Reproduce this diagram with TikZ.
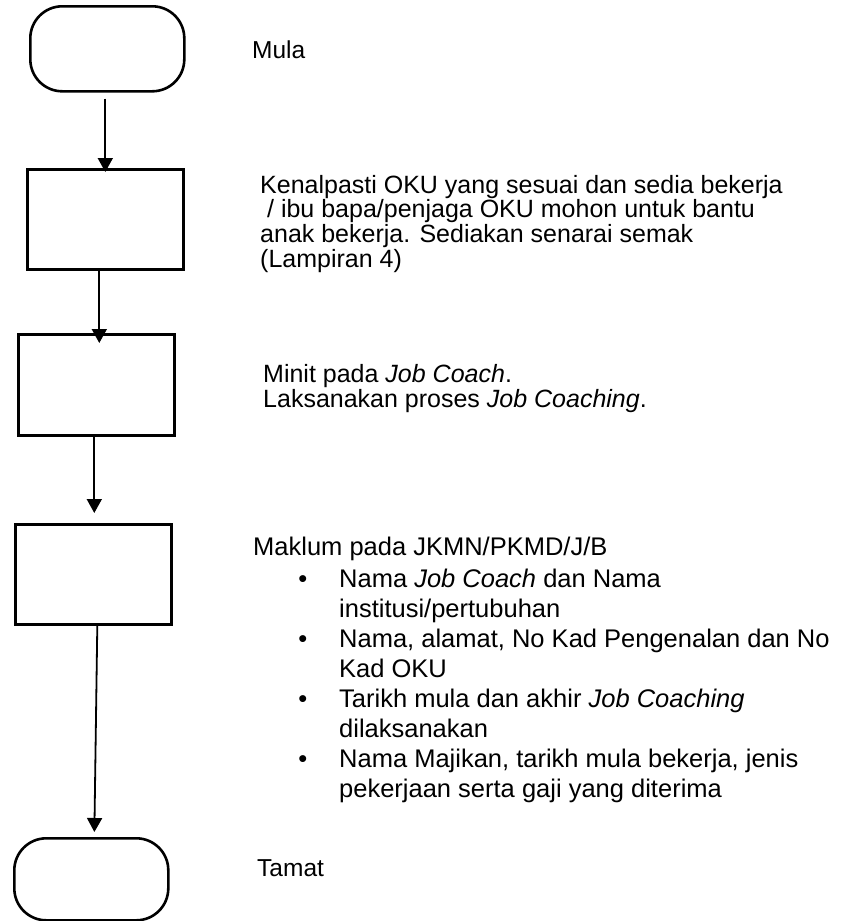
\documentclass[tikz,border=0pt]{standalone}
\usepackage{fontspec}
\setmainfont{Liberation Sans}
\usetikzlibrary{arrows.meta}
\begin{document}
\begin{tikzpicture}[x=1pt,y=-1pt,
  box/.style={draw, line width=2.6pt, inner sep=0pt, anchor=north west},
  terminal/.style={box, rounded corners=32pt},
  flow/.style={line width=1.8pt, -{Triangle[width=15pt,length=14pt]}},
  note/.style={anchor=base west, inner sep=0pt, align=left,
    font=\fontsize{25}{25}\selectfont},
  listnote/.style={note, font=\fontsize{25.5}{30}\selectfont},
  endnote/.style={note, font=\fontsize{24.5}{25}\selectfont},
]
\useasboundingbox (0,0) rectangle (841,921);

% flowchart shapes
\node[terminal, minimum width=154pt, minimum height=85pt]  (start) at (29,5) {};
\node[box, minimum width=156pt, minimum height=100pt]      (b1)    at (26,168) {};
\node[box, minimum width=156pt, minimum height=101pt]      (b2)    at (17,333) {};
\node[box, minimum width=156pt, minimum height=100pt]      (b3)    at (14,523) {};
\node[terminal, minimum width=154pt, minimum height=82pt]  (stop)  at (13,837) {};

% connectors
\draw[flow, shorten >=-4pt] ([xshift=-2pt,yshift=-6pt]start.south) -- (b1.north);
\draw[flow, shorten >=-10pt] ([xshift=-6pt]b1.south) -- ([xshift=3pt]b2.north);
\draw[flow, shorten >=10pt] ([xshift=-2pt]b2.south) -- ([xshift=1pt]b3.north);
\draw[flow, shorten >=5pt] ([xshift=4pt]b3.south) -- ([xshift=3pt]stop.north);

% descriptions
\node[endnote] (tmula) at (252,58) {Mula};
\node[note] (tkenal) at (260,193) {\vtop{\baselineskip=24.9pt\lineskiplimit=-100pt
  \hbox{Kenalpasti OKU yang sesuai dan sedia bekerja}
  \hbox{\ / ibu bapa/penjaga OKU mohon untuk bantu}
  \hbox{anak bekerja. Sediakan senarai semak}
  \hbox{(Lampiran 4)}}};
\node[note] (tminit) at (263,382) {\vtop{\baselineskip=25.5pt\lineskiplimit=-100pt
  \hbox{Minit pada \textit{Job Coach}.}
  \hbox{Laksanakan proses \textit{Job Coaching}.}}};
\node[listnote] (tmaklum) at (253,555) {Maklum pada JKMN/PKMD/J/B};
\node[listnote] (tlist) at (339,587) {\vtop{\baselineskip=30.1pt\lineskiplimit=-100pt
  \hbox{\llap{\textbullet\hskip 32pt}Nama \textit{Job Coach} dan Nama}
  \hbox{institusi/pertubuhan}
  \hbox{\llap{\textbullet\hskip 32pt}Nama, alamat, No Kad Pengenalan dan No}
  \hbox{Kad OKU}
  \hbox{\llap{\textbullet\hskip 32pt}Tarikh mula dan akhir \textit{Job Coaching}}
  \hbox{dilaksanakan}
  \hbox{\llap{\textbullet\hskip 32pt}Nama Majikan, tarikh mula bekerja, jenis}
  \hbox{pekerjaan serta gaji yang diterima}}};
\node[endnote] (ttamat) at (257,876) {Tamat};
\end{tikzpicture}
\end{document}
